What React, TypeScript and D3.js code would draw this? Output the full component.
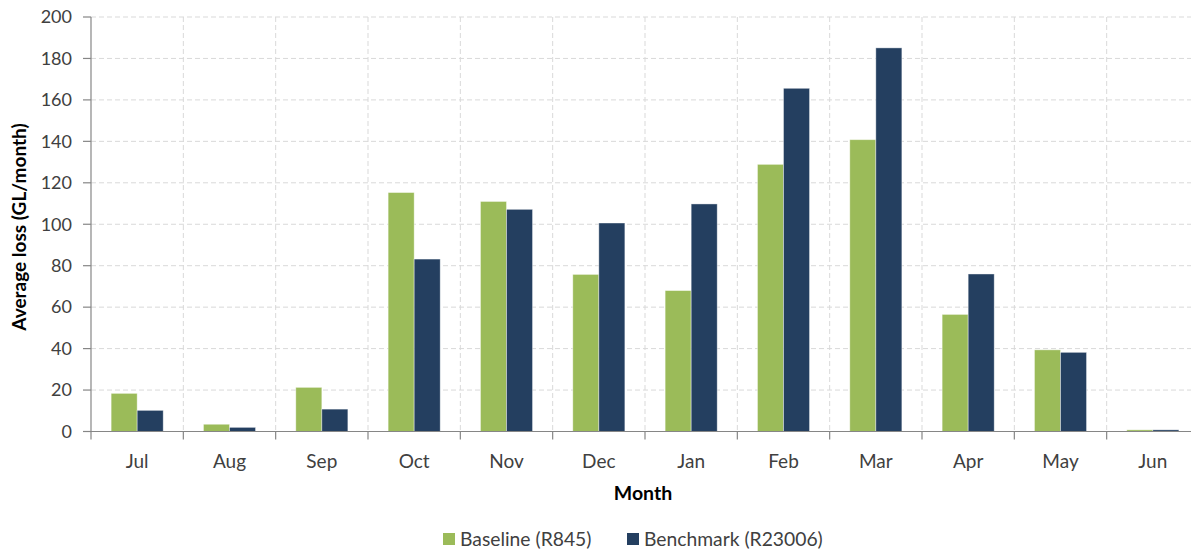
import React from "react";
import * as d3 from "d3";

const months = ["Jul", "Aug", "Sep", "Oct", "Nov", "Dec", "Jan", "Feb", "Mar", "Apr", "May", "Jun"];
const baseline = [18.4, 3.5, 21.3, 115.3, 111, 75.8, 68, 128.9, 140.8, 56.5, 39.4, 0.8];
const benchmark = [10.2, 2, 10.8, 83.2, 107.2, 100.6, 109.8, 165.6, 185.1, 76, 38.2, 0.8];
const seriesNames = ["Baseline (R845)", "Benchmark (R23006)"];
const seriesColors = ["#9BBB59", "#243F60"];
const yTicks = [0, 20, 40, 60, 80, 100, 120, 140, 160, 180, 200];

const W = 1191;
const H = 550;
const left = 91;
const right = 1199;
const top = 17;
const bottom = 431.5;
const FONT = "Lato, 'Open Sans', sans-serif";
const TXT = "#404040";

export default function App() {
  const x = d3.scaleBand<string>().domain(months).range([left, right]).paddingInner(0).paddingOuter(0);
  const y = d3.scaleLinear().domain([0, 200]).range([bottom, top]);
  const bw = x.bandwidth();
  const barW = bw * 0.282;
  const series = [baseline, benchmark];
  const boundaries = months.map((m) => x(m) as number).concat([right]);

  return (
    <svg width={W} height={H} style={{ position: "absolute", left: 0, top: 0 }} fontFamily={FONT}>
      <rect width={W} height={H} fill="#fff" />
      {yTicks.filter((t) => t > 0).map((t) => (
        <line key={"h" + t} x1={left} x2={right} y1={y(t)} y2={y(t)} stroke="#d9d9d9" strokeDasharray="5,3" strokeWidth={1} />
      ))}
      {boundaries.slice(1).map((b, i) => (
        <line key={"v" + i} x1={b} x2={b} y1={top} y2={bottom} stroke="#d9d9d9" strokeDasharray="5,3" strokeWidth={1} />
      ))}
      {series.map((vals, si) =>
        vals.map((v, i) => {
          const cx = (x(months[i]) as number) + bw / 2;
          const bx = si === 0 ? cx - barW : cx;
          return (
            <rect key={si + "-" + i} x={bx} y={y(v)} width={barW} height={bottom - y(v)} fill={seriesColors[si]} stroke="#ffffff" strokeOpacity={0.5} strokeWidth={0.8} />
          );
        })
      )}
      <line x1={left} x2={left} y1={top} y2={bottom} stroke="#868686" strokeWidth={1.2} />
      {yTicks.map((t) => (
        <g key={"y" + t}>
          <line x1={left - 8} x2={left} y1={y(t)} y2={y(t)} stroke="#868686" strokeWidth={1.2} />
          <text x={72} y={y(t)} dy="0.35em" textAnchor="end" fontSize={18} fill={TXT}>{t}</text>
        </g>
      ))}
      <line x1={left} x2={right} y1={bottom} y2={bottom} stroke="#868686" strokeWidth={1.2} />
      {boundaries.map((b, i) => (
        <line key={"xt" + i} x1={b} x2={b} y1={bottom} y2={bottom + 8} stroke="#868686" strokeWidth={1.2} />
      ))}
      {months.map((m) => (
        <text key={"xl" + m} x={(x(m) as number) + bw / 2} y={461} dy="0.35em" textAnchor="middle" fontSize={19} fill={TXT}>{m}</text>
      ))}
      <text x={643} y={493} dy="0.35em" textAnchor="middle" fontSize={19.5} fontWeight="bold" fill="#000">Month</text>
      <text transform={`translate(19,227) rotate(-90)`} dy="0.35em" textAnchor="middle" fontSize={19} fontWeight="bold" fill="#000">Average loss (GL/month)</text>
      {seriesNames.map((n, i) => {
        const lx = i === 0 ? 443 : 627;
        return (
          <g key={"lg" + i}>
            <rect x={lx} y={533} width={12} height={12} fill={seriesColors[i]} />
            <text x={lx + 17} y={539} dy="0.35em" fontSize={19.3} fill={TXT}>{n}</text>
          </g>
        );
      })}
    </svg>
  );
}
